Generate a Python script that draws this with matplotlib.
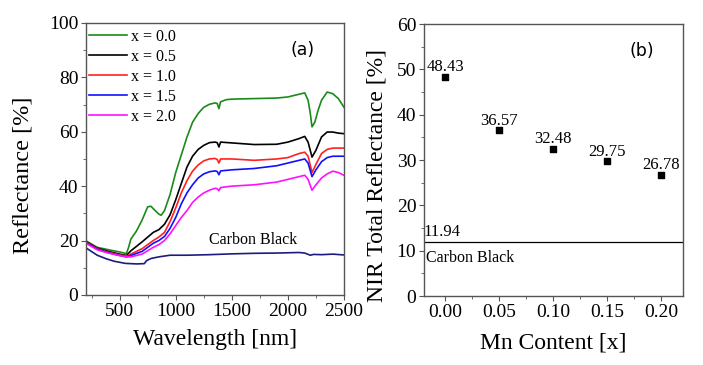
import matplotlib
matplotlib.use("Agg")
import matplotlib.pyplot as plt
from matplotlib.ticker import MultipleLocator

plt.rcParams['font.family'] = ['Liberation Serif', 'DejaVu Serif']

# panel (a): reflectance spectra
wl_g = [200, 300, 380, 450, 500, 560, 580, 600, 650, 700, 750, 780, 800, 850, 870, 900,
        950, 1000, 1050, 1100, 1150, 1200, 1250, 1300, 1350, 1370, 1385, 1400, 1450, 1500,
        1700, 1900, 2000, 2100, 2150, 2180, 2200, 2215, 2240, 2270, 2300, 2350, 2400, 2450, 2500]
r_x00 = [19.9, 17.5, 16.8, 16.2, 15.8, 15.2, 17.5, 20.5, 23.5, 27.5, 32.4, 32.6, 31.7, 29.7, 29.3, 31.0,
         37.0, 45.0, 51.5, 58.0, 63.5, 66.7, 69.0, 70.1, 70.6, 70.4, 68.5, 71.0, 71.8, 72.0,
         72.2, 72.4, 72.8, 73.8, 74.3, 71.6, 66.7, 61.8, 63.5, 68.0, 71.6, 74.6, 74.0, 72.2, 69.0]

wl = [200, 300, 400, 500, 560, 600, 700, 800, 850, 900, 950, 1000, 1050, 1100, 1150, 1200,
      1250, 1300, 1350, 1370, 1385, 1400, 1500, 1700, 1900, 2000, 2100, 2150, 2180, 2215,
      2250, 2300, 2350, 2400, 2450, 2500]
r_x05 = [19.6, 17.2, 16.0, 15.0, 14.5, 16.2, 19.5, 23.0, 24.0, 26.0, 29.5, 35.0, 41.0, 47.0, 51.0, 53.5,
         55.0, 56.0, 56.2, 56.0, 54.4, 56.2, 55.9, 55.3, 55.4, 56.2, 57.5, 58.3, 56.2, 50.7,
         53.2, 58.1, 59.9, 59.9, 59.5, 59.3]
r_x10 = [19.4, 17.0, 15.7, 14.7, 14.3, 15.0, 17.0, 20.0, 21.3, 23.0, 27.0, 32.0, 37.5, 42.0, 45.5, 47.8,
         49.3, 50.0, 50.2, 49.8, 48.5, 50.0, 50.0, 49.5, 50.0, 50.5, 52.0, 52.5, 51.0, 45.0,
         48.0, 52.0, 53.5, 54.0, 54.0, 54.0]
r_x15 = [19.2, 16.8, 15.5, 14.5, 14.0, 14.5, 16.0, 19.0, 20.0, 21.5, 24.5, 28.5, 33.5, 37.5, 40.5, 43.0,
         44.5, 45.3, 45.6, 45.4, 44.2, 45.6, 46.0, 46.5, 47.5, 48.5, 49.5, 50.0, 48.5, 43.5,
         46.0, 49.0, 50.5, 51.0, 51.0, 51.0]
r_x20 = [19.0, 16.6, 15.4, 14.5, 14.0, 14.0, 15.0, 17.5, 18.5, 20.0, 22.5, 25.5, 28.5, 31.0, 34.0, 36.0,
         37.5, 38.5, 39.2, 39.1, 38.3, 39.5, 40.0, 40.5, 41.5, 42.5, 43.5, 44.0, 42.5, 38.5,
         40.5, 43.0, 44.5, 45.5, 45.0, 44.0]

wl_cb = [200, 300, 380, 450, 550, 650, 720, 740, 780, 850, 950, 1100, 1300, 1500, 1700,
         1900, 2100, 2150, 2200, 2230, 2300, 2400, 2500]
r_cb = [17.3, 14.6, 13.3, 12.4, 11.6, 11.4, 11.5, 12.6, 13.4, 14.0, 14.6, 14.6, 14.8, 15.1, 15.3,
        15.4, 15.6, 15.4, 14.6, 14.9, 14.8, 15.0, 14.7]

labels_a = ['x = 0.0', 'x = 0.5', 'x = 1.0', 'x = 1.5', 'x = 2.0']
colors_a = ['#1a8a1a', 'black', '#ff2020', '#1010ff', '#ff10ff']

# panel (b): NIR total reflectance
mn = [0.00, 0.05, 0.10, 0.15, 0.20]
nir = [48.43, 36.57, 32.48, 29.75, 26.78]
nir_cb = 11.94

fig = plt.figure(figsize=(7.03, 3.65), dpi=100)
ax1 = fig.add_axes([0.1223, 0.192, 0.367, 0.745])
ax2 = fig.add_axes([0.603, 0.189, 0.3684, 0.745])

series = [(wl_g, r_x00), (wl, r_x05), (wl, r_x10), (wl, r_x15), (wl, r_x20)]
for (x, y), lab, c in zip(series, labels_a, colors_a):
    ax1.plot(x, y, color=c, lw=1.2, label=lab)
ax1.plot(wl_cb, r_cb, color='#1c1c80', lw=1.2)
ax1.text(1690, 20.2, 'Carbon Black', fontsize=11.5, ha='center', va='center')
ax1.text(0.84, 0.9, '(a)', transform=ax1.transAxes, fontsize=12.5,
         family=['DejaVu Sans'], ha='center', va='center')
ax1.set_xlim(200, 2500)
ax1.set_ylim(0, 100)
ax1.xaxis.set_major_locator(MultipleLocator(500))
ax1.xaxis.set_minor_locator(MultipleLocator(250))
ax1.yaxis.set_major_locator(MultipleLocator(20))
ax1.yaxis.set_minor_locator(MultipleLocator(10))
ax1.set_xlabel('Wavelength [nm]', fontsize=17, va='center')
ax1.set_ylabel('Reflectance [%]', fontsize=17.5, va='center')
ax1.xaxis.set_label_coords(0.5, -0.165)
ax1.yaxis.set_label_coords(-0.244, 0.44)
ax1.legend(loc='upper left', frameon=False, fontsize=11.5, handlelength=2.35,
           handletextpad=0.25, labelspacing=0.25, borderaxespad=0.0, borderpad=0.2,
           bbox_to_anchor=(0.0, 0.99))

ax2.scatter(mn, nir, marker='s', s=14, color='black', zorder=3)
for x, y in zip(mn, nir):
    ax2.text(x, y + 0.3, f'{y:.2f}', fontsize=12, ha='center', va='bottom')
ax2.axhline(nir_cb, color='black', lw=0.9)
ax2.text(-0.003, nir_cb + 0.4, f'{nir_cb:.2f}', fontsize=12, ha='center', va='bottom')
ax2.text(-0.0185, 8.4, 'Carbon Black', fontsize=11.5, ha='left', va='center')
ax2.text(0.84, 0.9, '(b)', transform=ax2.transAxes, fontsize=12.5,
         family=['DejaVu Sans'], ha='center', va='center')
ax2.set_xlim(-0.02, 0.22)
ax2.set_ylim(0, 60)
ax2.set_xticks(mn)
ax2.set_xticklabels([f'{v:.2f}' for v in mn])
ax2.xaxis.set_minor_locator(MultipleLocator(0.025))
ax2.yaxis.set_major_locator(MultipleLocator(10))
ax2.yaxis.set_minor_locator(MultipleLocator(5))
ax2.set_xlabel('Mn Content [x]', fontsize=17, va='center')
ax2.set_ylabel('NIR Total Reflectance [%]', fontsize=17, va='center')
ax2.xaxis.set_label_coords(0.5, -0.173)
ax2.yaxis.set_label_coords(-0.181, 0.445)

for ax in (ax1, ax2):
    for s in ax.spines.values():
        s.set_color('#555555')
        s.set_linewidth(1.0)
    ax.tick_params(which='major', direction='out', length=3.5, width=0.8,
                   color='#555555', labelsize=14, pad=2)
    ax.tick_params(which='minor', direction='out', length=2, width=0.6, color='#555555')

fig.savefig('out.png', dpi=100)
